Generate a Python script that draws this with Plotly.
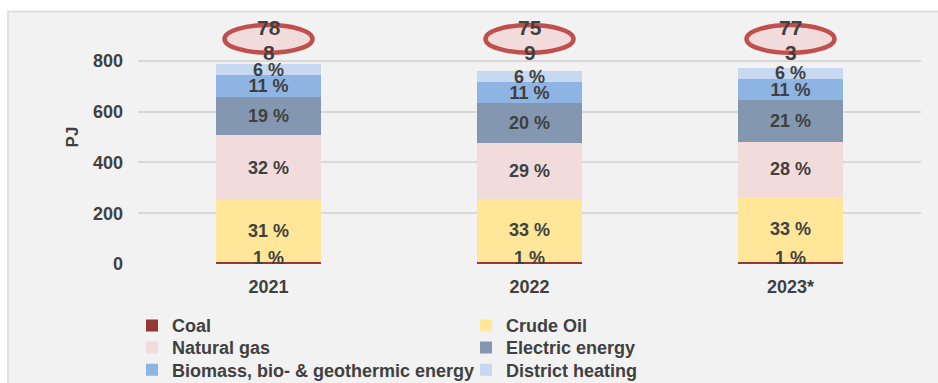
import plotly.graph_objects as go

# ---- data ----
years = ["2021", "2022", "2023*"]
coal = [7, 7, 7]
crude_oil = [244, 250, 258]
natural_gas = [255, 221, 217]
electric_energy = [151, 154, 162]
biomass = [86, 84, 86]
district_heating = [45, 43, 43]
y_tick_values = [0, 200, 400, 600, 800]

series = [
    ("Coal", coal, "#953735", "legend"),
    ("Crude Oil", crude_oil, "#FFE699", "legend"),
    ("Natural gas", natural_gas, "#F2DCDB", "legend2"),
    ("Electric energy", electric_energy, "#8497B0", "legend2"),
    ("Biomass, bio- & geothermic energy", biomass, "#8DB4E2", "legend3"),
    ("District heating", district_heating, "#C6D9F1", "legend3"),
]

totals = [sum(s[1][i] for s in series) for i in range(len(years))]

FONT = "Liberation Sans, Arial, sans-serif"
TXT = "#404040"

# pixel geometry helpers (plot area: x 138..921, y 10..264)
PL, PR, PT, PB = 138, 921, 10, 264
W, H = 938, 383


def px2py(py):
    return (PB - py) / (PB - PT)


def px2px(px):
    return (px - PL) / (PR - PL)


fig = go.Figure()
annotations = []
for k, (name, vals, color, leg) in enumerate(series):
    pct = [f"{round(v / t * 100)} %" for v, t in zip(vals, totals)]
    small = k == 0  # coal segments are too thin to hold their label inside
    fig.add_trace(go.Bar(
        name=name, x=years, y=vals, marker=dict(color=color, line=dict(width=0)),
        text=None if small else pct, textposition="none" if small else "inside",
        insidetextanchor="middle", textangle=0,
        insidetextfont=dict(family=FONT, size=18, color=TXT, weight="bold"),
        legend=leg, hoverinfo="skip",
    ))
    if small:
        for i, v in enumerate(vals):
            annotations.append(dict(x=i, y=v / 2, xref="x", yref="y", text=pct[i],
                                    showarrow=False, yanchor="middle", yshift=5,
                                    font=dict(family=FONT, size=18, color=TXT, weight="bold")))

shapes = [dict(type="rect", xref="paper", yref="paper",
               x0=px2px(8), x1=px2px(W + 5), y0=px2py(H + 5), y1=px2py(11.5),
               fillcolor="#F2F2F2", line=dict(color="#D9D9D9", width=1.5), layer="below")]
half = 44 / ((PR - PL) / len(years))
for i, t in enumerate(totals):
    shapes.append(dict(type="circle", xref="x", yref="paper",
                       x0=i - half, x1=i + half, y0=px2py(52.8), y1=px2py(25),
                       fillcolor="#F2DCDB", line=dict(color="#C0504D", width=4.5), layer="above"))
    s = str(t)
    annotations.append(dict(x=i, y=px2py(28), xref="x", yref="paper", text=s[:2],
                            showarrow=False, yanchor="middle",
                            font=dict(family=FONT, size=21, color=TXT, weight="bold")))
    annotations.append(dict(x=i, y=px2py(52), xref="x", yref="paper", text=s[2:],
                            showarrow=False, yanchor="middle",
                            font=dict(family=FONT, size=21, color=TXT, weight="bold")))

legend_common = dict(orientation="h", xanchor="left", yanchor="middle", x=px2px(132),
                     entrywidth=289, traceorder="normal", bgcolor="rgba(0,0,0,0)",
                     font=dict(family=FONT, size=18, color=TXT, weight="bold"))

fig.update_layout(
    width=W, height=H,
    margin=dict(l=PL, r=W - PR, t=PT, b=H - PB, pad=0, autoexpand=False),
    paper_bgcolor="white", plot_bgcolor="rgba(0,0,0,0)",
    barmode="stack", bargap=0.6,
    font=dict(family=FONT, size=18, color=TXT),
    uniformtext=dict(minsize=18, mode="show"),
    showlegend=True,
    legend=dict(y=px2py(325.7), **legend_common),
    legend2=dict(y=px2py(347.7), **legend_common),
    legend3=dict(y=px2py(370), **legend_common),
    xaxis=dict(type="category", range=[-0.5, len(years) - 0.5], showgrid=False,
               showline=False, zeroline=False, ticks="outside", ticklen=0,
               tickfont=dict(family=FONT, size=18, color=TXT, weight="bold"),
               ticklabelstandoff=6),
    yaxis=dict(range=[0, 1000], tickvals=y_tick_values, showgrid=True, gridcolor="#D9D9D9",
               gridwidth=1.5, zeroline=False, showline=False, ticks="", ticklabelstandoff=14,
               tickfont=dict(family=FONT, size=18, color=TXT, weight="bold"),
               title=dict(text="PJ", standoff=10,
                          font=dict(family=FONT, size=17, color=TXT, weight="bold"))),
    shapes=shapes, annotations=annotations,
)

fig.write_html("out.html")
